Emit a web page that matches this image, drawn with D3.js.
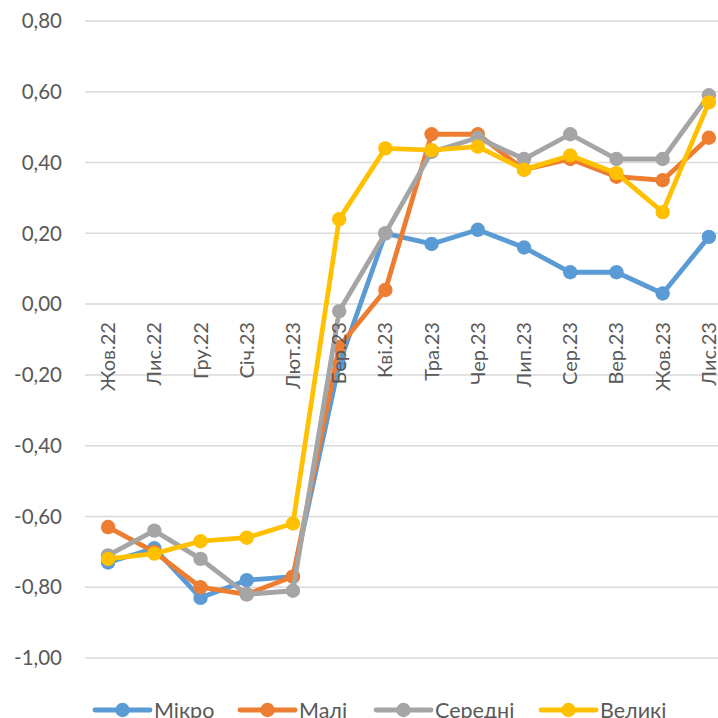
<!DOCTYPE html>
<html><head><meta charset="utf-8">
<script src="https://cdn.jsdelivr.net/npm/d3@7"></script>
<style>body{margin:0;background:#fff;overflow:hidden}</style>
</head><body>
<svg id="c" width="718" height="718"></svg>
<script>
const categories = ["Жов.22","Лис.22","Гру.22","Січ.23","Лют.23","Бер.23","Кві.23","Тра.23","Чер.23","Лип.23","Сер.23","Вер.23","Жов.23","Лис.23"];
const mikro   = [-0.73,-0.69,-0.83,-0.78,-0.77,-0.17,0.20,0.17,0.21,0.16,0.09,0.09,0.03,0.19];
const mali    = [-0.63,-0.70,-0.80,-0.82,-0.77,-0.12,0.04,0.48,0.48,0.38,0.41,0.36,0.35,0.47];
const seredni = [-0.71,-0.64,-0.72,-0.82,-0.81,-0.02,0.20,0.43,0.47,0.41,0.48,0.41,0.41,0.59];
const velyki  = [-0.72,-0.705,-0.67,-0.66,-0.62,0.24,0.44,0.435,0.445,0.38,0.42,0.37,0.26,0.57];
const seriesNames = ["Мікро","Малі","Середні","Великі"];
const seriesColors = ["#5B9BD5","#ED7D31","#A5A5A5","#FFC000"];
const yTicks = [-1.0,-0.8,-0.6,-0.4,-0.2,0,0.2,0.4,0.6,0.8];

const series = [mikro, mali, seredni, velyki];
const svg = d3.select("#c");
const font = "Lato, 'Open Sans', sans-serif";
const textColor = "#595959";

const x = d3.scaleBand().domain(categories).range([85, 732]);
const y = d3.scaleLinear().domain([-1.0, 0.8]).range([658, 21]);
const fmt = v => d3.format(".2f")(v).replace(".", ",").replace("−","-");

// gridlines
svg.append("g").selectAll("line").data(yTicks).join("line")
  .attr("x1", 85).attr("x2", 732)
  .attr("y1", d => y(d)).attr("y2", d => y(d))
  .attr("stroke", "#D9D9D9").attr("stroke-width", 1.5);

// y labels
svg.append("g").selectAll("text").data(yTicks).join("text")
  .attr("x", 62).attr("y", d => y(d)).attr("dy", "0.35em")
  .attr("text-anchor", "end").attr("font-family", font).attr("font-size", 20.5)
  .attr("fill", textColor).text(d => fmt(d));

// series
const line = d3.line().x((d, i) => x(categories[i]) + x.bandwidth() / 2).y(d => y(d));
series.forEach((s, k) => {
  const g = svg.append("g");
  g.append("path").datum(s).attr("d", line).attr("fill", "none")
    .attr("stroke", seriesColors[k]).attr("stroke-width", 4.8).attr("stroke-linejoin", "round").attr("stroke-linecap", "round");
  g.selectAll("circle").data(s).join("circle")
    .attr("cx", (d, i) => x(categories[i]) + x.bandwidth() / 2).attr("cy", d => y(d))
    .attr("r", 7.2).attr("fill", seriesColors[k]);
});

// x labels (rotated), drawn on top
svg.append("g").selectAll("text").data(categories).join("text")
  .attr("transform", d => `translate(${x(d) + x.bandwidth() / 2 + 7},${y(0) + 18}) rotate(-90)`)
  .attr("text-anchor", "end").attr("font-family", font).attr("font-size", 20)
  .attr("fill", textColor).text(d => d);

// legend
const legX = [95, 240, 376, 541];
const leg = svg.append("g");
seriesNames.forEach((n, k) => {
  const lx = legX[k], ly = 710;
  leg.append("line").attr("x1", lx).attr("x2", lx + 55).attr("y1", ly).attr("y2", ly)
    .attr("stroke", seriesColors[k]).attr("stroke-width", 4.8).attr("stroke-linecap", "round");
  leg.append("circle").attr("cx", lx + 27.5).attr("cy", ly).attr("r", 7.2).attr("fill", seriesColors[k]);
  leg.append("text").attr("x", lx + 59).attr("y", ly).attr("dy", "0.35em")
    .attr("font-family", font).attr("font-size", 21.5).attr("fill", textColor).text(n);
});
</script>
</body></html>
